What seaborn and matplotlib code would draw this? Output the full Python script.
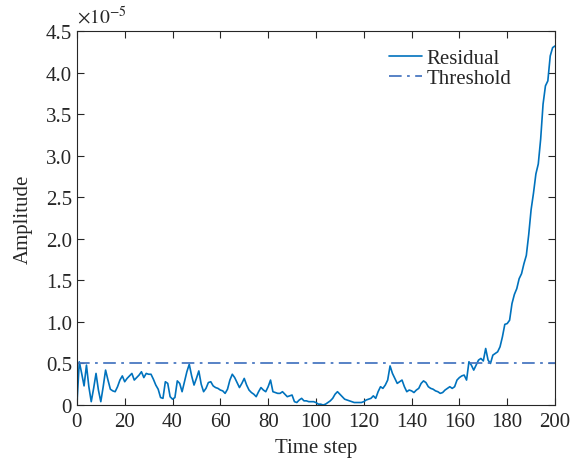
import numpy as np
import pandas as pd
import matplotlib
matplotlib.use("Agg")
import matplotlib.pyplot as plt
import seaborn as sns
from matplotlib.ticker import FuncFormatter, MultipleLocator

# residual amplitude, in units of 1e-5, one value per time step 0..200
residual = [
    0.00, 0.52, 0.38, 0.23, 0.48, 0.22, 0.04, 0.20, 0.38, 0.18,
    0.04, 0.22, 0.42, 0.30, 0.19, 0.17, 0.16, 0.22, 0.30, 0.35,
    0.28, 0.32, 0.35, 0.38, 0.30, 0.33, 0.36, 0.40, 0.33, 0.38,
    0.37, 0.37, 0.31, 0.24, 0.19, 0.09, 0.08, 0.28, 0.26, 0.10,
    0.07, 0.09, 0.29, 0.26, 0.16, 0.28, 0.40, 0.49, 0.35, 0.24,
    0.32, 0.41, 0.25, 0.16, 0.20, 0.27, 0.28, 0.23, 0.21, 0.20,
    0.18, 0.17, 0.14, 0.19, 0.30, 0.37, 0.33, 0.27, 0.21, 0.26,
    0.32, 0.24, 0.18, 0.15, 0.13, 0.10, 0.16, 0.21, 0.18, 0.16,
    0.22, 0.30, 0.16, 0.15, 0.14, 0.14, 0.16, 0.13, 0.10, 0.11,
    0.12, 0.04, 0.03, 0.06, 0.08, 0.05, 0.05, 0.04, 0.04, 0.04,
    0.03, 0.01, 0.01, 0.00, 0.01, 0.03, 0.05, 0.08, 0.13, 0.16,
    0.13, 0.10, 0.07, 0.06, 0.05, 0.04, 0.03, 0.03, 0.03, 0.03,
    0.04, 0.06, 0.07, 0.08, 0.11, 0.08, 0.16, 0.22, 0.20, 0.24,
    0.30, 0.47, 0.38, 0.32, 0.26, 0.28, 0.30, 0.22, 0.16, 0.18,
    0.17, 0.15, 0.18, 0.20, 0.26, 0.29, 0.27, 0.22, 0.20, 0.19,
    0.17, 0.16, 0.14, 0.15, 0.18, 0.20, 0.22, 0.20, 0.22, 0.30,
    0.33, 0.35, 0.36, 0.30, 0.52, 0.48, 0.42, 0.48, 0.54, 0.56,
    0.53, 0.68, 0.54, 0.50, 0.60, 0.62, 0.64, 0.70, 0.82, 0.97,
    0.98, 1.02, 1.22, 1.33, 1.40, 1.52, 1.58, 1.70, 1.80, 2.05,
    2.35, 2.55, 2.78, 2.90, 3.20, 3.62, 3.84, 3.90, 4.20, 4.30,
    4.32,
]
time_step = list(range(len(residual)))
threshold = 0.51

df = pd.DataFrame({"Time step": time_step, "Amplitude": residual})

sns.set_theme(style="white")
plt.rcParams["font.family"] = ["Liberation Serif", "DejaVu Serif"]
plt.rcParams["mathtext.fontset"] = "stix"

fig = plt.figure(figsize=(5.87, 4.64), dpi=100)
ax = fig.add_axes([0.131, 0.125, 0.8145, 0.806])

sns.lineplot(data=df, x="Time step", y="Amplitude", ax=ax,
             color="#0072BD", linewidth=1.2, label="Residual")
ax.axhline(threshold, color="#4A78C2", linewidth=1.3,
           linestyle=(0, (7, 3, 1.5, 3)), label="Threshold")

ax.set_xlim(0, 200)
ax.set_ylim(0, 4.5)
ax.xaxis.set_major_locator(MultipleLocator(20))
ax.yaxis.set_major_locator(MultipleLocator(0.5))
ax.yaxis.set_major_formatter(FuncFormatter(lambda v, p: "0" if v == 0 else f"{v:.1f}"))

dark = "#262626"
for s in ax.spines.values():
    s.set_color(dark)
    s.set_linewidth(0.8)
ax.tick_params(direction="in", length=5, width=0.8, color=dark,
               labelsize=15, labelcolor=dark, top=True, right=True,
               bottom=True, left=True)
ax.tick_params(axis="x", pad=5)
ax.set_xlabel("Time step", fontsize=15, color=dark, labelpad=5)
ax.set_ylabel("Amplitude", fontsize=15, color=dark, labelpad=9)
ax.text(0.0, 1.012, r"$\times10^{-5}$", transform=ax.transAxes,
        fontsize=14, color=dark, ha="left", va="bottom")

ax.legend(loc="upper right", bbox_to_anchor=(0.93, 0.98), frameon=False,
          fontsize=15, handlelength=1.6, handletextpad=0.2,
          labelspacing=0.02, borderpad=0, labelcolor=dark)

fig.savefig("out.png", dpi=100)
